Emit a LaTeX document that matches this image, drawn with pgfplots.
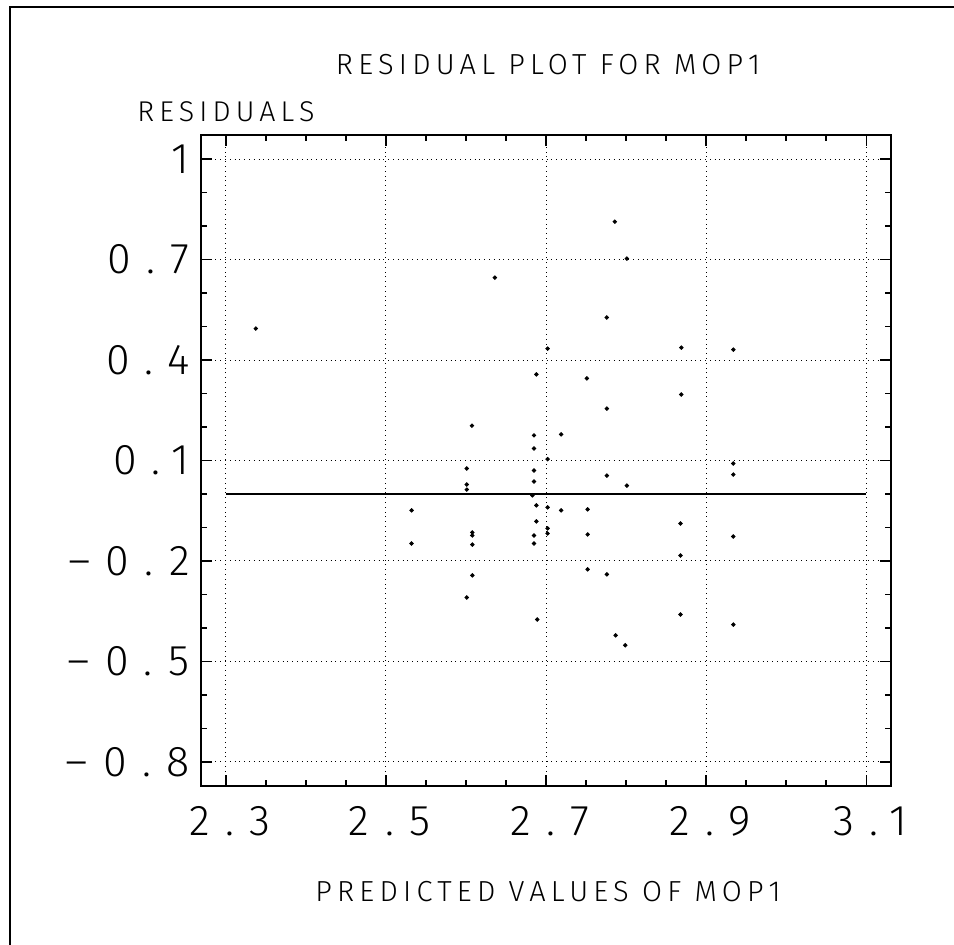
\documentclass[border=0pt]{standalone}
\usepackage{fontspec}
\setmainfont{Fira Sans Light}
\newfontfamily\plotfont[LetterSpace=18]{Fira Sans Light}
\newfontfamily\tickfont[LetterSpace=36]{Fira Sans Light}
\usepackage{pgfplots}
\pgfplotsset{compat=1.18}

% residuals vs predicted values
\pgfplotstableread{
x      y
2.3375  0.494
2.6075  0.204
2.636   0.646
2.786   0.813
2.801   0.703
2.776   0.527
2.702   0.434
2.869   0.437
2.934   0.431
2.688   0.357
2.751   0.345
2.869   0.297
2.776   0.255
2.685   0.175
2.719   0.178
2.685   0.136
2.702   0.104
2.601   0.076
2.685   0.070
2.685   0.037
2.601   0.028
2.601   0.013
2.934   0.091
2.934   0.058
2.776   0.055
2.801   0.025
2.683  -0.004
2.688  -0.034
2.702  -0.040
2.719  -0.049
2.752  -0.046
2.532  -0.049
2.688  -0.082
2.702  -0.103
2.868  -0.088
2.608  -0.115
2.702  -0.118
2.752  -0.121
2.608  -0.124
2.685  -0.124
2.934  -0.127
2.608  -0.151
2.685  -0.148
2.532  -0.148
2.868  -0.184
2.752  -0.225
2.776  -0.240
2.608  -0.243
2.601  -0.309
2.689  -0.375
2.868  -0.360
2.934  -0.390
2.787  -0.422
2.799  -0.452
}\residuals

\begin{document}
\begin{tikzpicture}
\useasboundingbox (0,0) rectangle (477pt,472.5pt);
% page edge of the scan
\draw[line width=1.4pt] (5pt,0) -- (5pt,469pt) -- (477pt,469pt);
\begin{axis}[
  at={(100.5pt,79.5pt)}, anchor=south west,
  width=345pt, height=325.5pt, scale only axis,
  xmin=2.269, xmax=3.131, ymin=-0.872, ymax=1.072,
  xtick={2.3,2.5,2.7,2.9,3.1},
  xticklabels={2.3,2.5,2.7,2.9,3.1},
  minor x tick num=3,
  ytick={-0.8,-0.5,-0.2,0.1,0.4,0.7,1},
  yticklabels={–0.8,–0.5,–0.2,0.1,0.4,0.7,1},
  minor y tick num=2,
  tick align=inside,
  major tick length=5.5pt, minor tick length=3pt,
  tick style={black, line width=0.7pt},
  grid=major,
  major grid style={black, dotted, line width=0.5pt},
  axis line style={line width=0.8pt},
  xticklabel style={font=\fontsize{21.5pt}{24pt}\tickfont, anchor=north, inner sep=0pt, yshift=-10pt, xshift=2pt},
  yticklabel style={font=\fontsize{21.5pt}{24pt}\tickfont, anchor=east, inner sep=0pt, xshift=-5.5pt},
  title={RESIDUAL PLOT FOR MOP1},
  every axis title/.style={at={(axis description cs:0.5,1)}, anchor=base, yshift=30pt, xshift=1pt, inner sep=0pt, font=\fontsize{14.5pt}{16pt}\plotfont},
  xlabel={PREDICTED VALUES OF MOP1},
  every axis x label/.style={at={(axis description cs:0.5,0)}, anchor=base, yshift=-58pt, xshift=1pt, inner sep=0pt, font=\fontsize{14.5pt}{16pt}\plotfont},
  ylabel={RESIDUALS},
  every axis y label/.style={at={(axis description cs:0,1)}, anchor=base west, xshift=-32pt, yshift=6.5pt, inner sep=0pt, font=\fontsize{14.3pt}{16pt}\plotfont},
]
\addplot[black, line width=0.9pt] coordinates {(2.3,0) (3.1,0)};
\addplot[only marks, mark=*, mark size=0.9pt, black] table {\residuals};
\end{axis}
\end{tikzpicture}
\end{document}
